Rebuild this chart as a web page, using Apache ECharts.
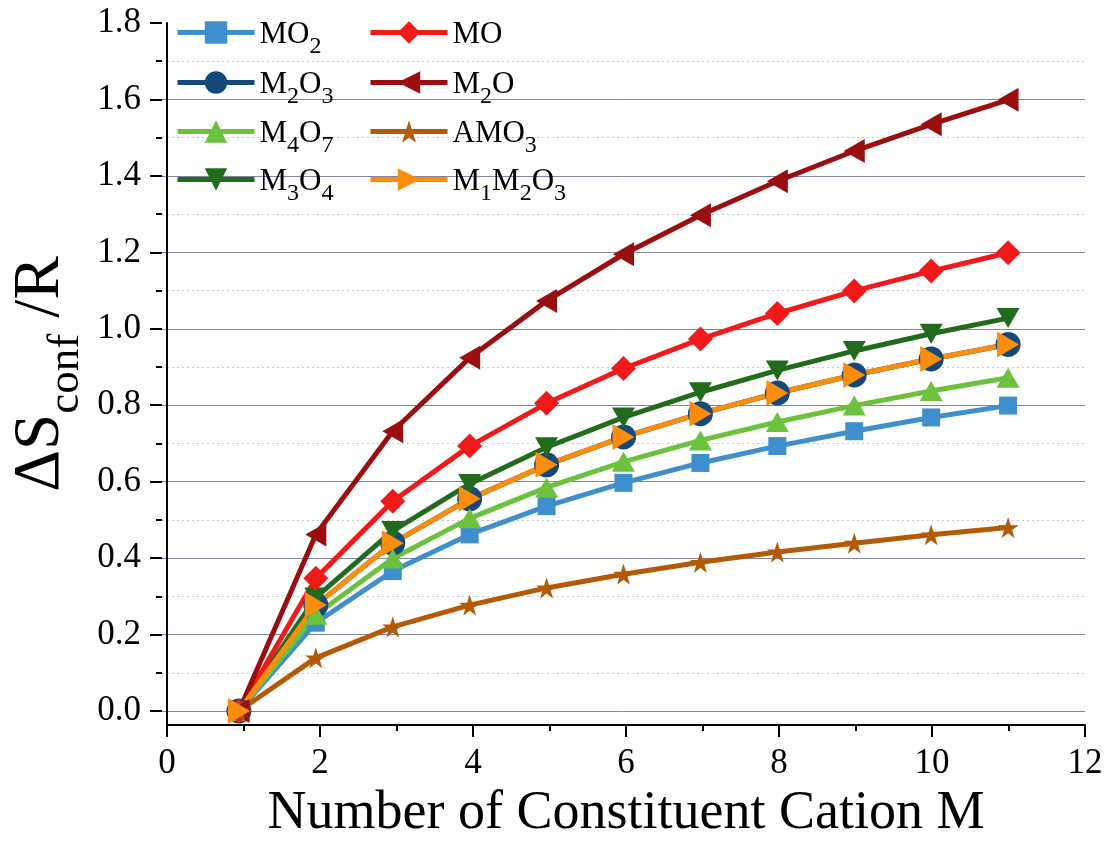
<!DOCTYPE html>
<html>
<head>
<meta charset="utf-8">
<script src="https://cdn.jsdelivr.net/npm/echarts@6/dist/echarts.min.js"></script>
<style>
  html, body { margin: 0; padding: 0; background: #fff; }
  #chart { width: 1110px; height: 846px; }
</style>
</head>
<body>
<div id="chart"></div>
<script>
// Number of constituent cations M
const cations = [1, 2, 3, 4, 5, 6, 7, 8, 9, 10, 11];

// Configurational entropy ΔS_conf / R for each oxide family
const MO2    = [0, 0.231, 0.366, 0.462, 0.536, 0.597, 0.649, 0.693, 0.732, 0.768, 0.799];
const M2O3   = [0, 0.277, 0.439, 0.555, 0.644, 0.717, 0.778, 0.832, 0.879, 0.921, 0.959];
const M4O7   = [0, 0.252, 0.399, 0.504, 0.585, 0.652, 0.708, 0.756, 0.799, 0.837, 0.872];
const M3O4   = [0, 0.297, 0.471, 0.594, 0.690, 0.768, 0.834, 0.891, 0.942, 0.987, 1.028];
const MO     = [0, 0.347, 0.549, 0.693, 0.805, 0.896, 0.973, 1.040, 1.099, 1.151, 1.199];
const M2O    = [0, 0.462, 0.732, 0.924, 1.073, 1.195, 1.297, 1.386, 1.465, 1.535, 1.599];
const AMO3   = [0, 0.139, 0.220, 0.277, 0.322, 0.358, 0.389, 0.416, 0.439, 0.461, 0.480];
const M1M2O3 = [0, 0.277, 0.439, 0.555, 0.644, 0.717, 0.778, 0.832, 0.879, 0.921, 0.959];

const xTicks = [0, 2, 4, 6, 8, 10, 12];
const yTicks = [0, 0.2, 0.4, 0.6, 0.8, 1.0, 1.2, 1.4, 1.6, 1.8];

const FONT = "'Liberation Serif', 'Times New Roman', serif";
const STAR = 'path://M50,0 L61.8,35.1 L98.1,35.1 L68.8,56.7 L79.4,91 L50,70 L20.6,91 L31.2,56.7 L1.9,35.1 L38.2,35.1 Z';
const LINE_W = 5;

// legend: column x, row y (centre of the key line)
const seriesDefs = [
  { name: 'MO2',    values: MO2,    color: '#3f8fcc', symbol: 'rect',     size: 18,       rotate: 0,   col: 175, row: 33 },
  { name: 'M2O3',   values: M2O3,   color: '#15497a', symbol: 'circle',   size: 25,       rotate: 0,   col: 175, row: 83 },
  { name: 'M4O7',   values: M4O7,   color: '#6cc13e', symbol: 'triangle', size: [23, 20], rotate: 0,   col: 175, row: 132 },
  { name: 'M3O4',   values: M3O4,   color: '#236b1c', symbol: 'triangle', size: [23, 20], rotate: 180, col: 175, row: 180 },
  { name: 'MO',     values: MO,     color: '#f01a1a', symbol: 'diamond',  size: 25,       rotate: 0,   col: 368, row: 33 },
  { name: 'M2O',    values: M2O,    color: '#990f0f', symbol: 'triangle', size: [24, 21], rotate: 90,  col: 368, row: 83 },
  { name: 'AMO3',   values: AMO3,   color: '#b35a07', symbol: STAR,       size: 21,       rotate: 0,   col: 368, row: 132 },
  { name: 'M1M2O3', values: M1M2O3, color: '#fb8c0c', symbol: 'triangle', size: [26, 22], rotate: -90, col: 368, row: 180 }
];

// Chemical formulae with subscripted digits
function formula(name) {
  let s = name.replace(/\d+|\D+/g, t => /\d/.test(t) ? '{b|' + t + '}' : '{n|' + t + '}');
  if (!/\d/.test(name)) s += '{b| }';
  return s;
}

const LEGEND_ITEM_H = 28;
const legendRich = {
  n: { fontSize: 31, fontFamily: FONT, color: '#000', padding: [13, 0, 0, 0], verticalAlign: 'top' },
  b: { fontSize: 24, fontFamily: FONT, color: '#000', padding: [29, 0, 0, 0], verticalAlign: 'top' }
};

const legends = seriesDefs.map(d => ({
  data: [d.name],
  left: d.col,
  top: d.row - LEGEND_ITEM_H / 2,
  padding: 0,
  itemWidth: 77,
  itemHeight: LEGEND_ITEM_H,
  lineStyle: { width: LINE_W },
  formatter: formula,
  textStyle: { rich: legendRich, fontFamily: FONT }
}));

const chart = echarts.init(document.getElementById('chart'), null, { renderer: 'canvas' });

chart.setOption({
  backgroundColor: '#ffffff',
  animation: false,
  grid: [
    // frame for the axis lines (extends slightly below zero)
    { left: 162, right: 25, top: 23, bottom: 117 },
    // data area, 0 .. 1.8
    { left: 162, right: 25, top: 23, bottom: 135 }
  ],
  legend: legends,
  xAxis: [
    {
      gridIndex: 0, type: 'value', min: xTicks[0], max: xTicks[xTicks.length - 1], interval: 2,
      axisLine: { onZero: false, lineStyle: { color: '#000', width: 2 } },
      axisTick: { length: 12, lineStyle: { color: '#000', width: 2 } },
      minorTick: { show: true, splitNumber: 2, length: 6, lineStyle: { color: '#000', width: 2 } },
      splitLine: { show: false },
      axisLabel: { fontSize: 35, fontFamily: FONT, color: '#000', margin: 21 },
      name: 'Number of Constituent Cation M',
      nameLocation: 'middle',
      nameGap: 62,
      nameTextStyle: { fontSize: 54, fontFamily: FONT, color: '#000' }
    },
    { gridIndex: 1, type: 'value', min: 0, max: 12, show: false }
  ],
  yAxis: [
    {
      gridIndex: 0, type: 'value', min: -0.05, max: 1.8,
      axisLine: { show: true, onZero: false, lineStyle: { color: '#000', width: 2 } },
      axisTick: { show: false },
      axisLabel: { show: false },
      splitLine: { show: false },
      name: '{m|ΔS}{s|conf}{m| /R}',
      nameLocation: 'middle',
      nameGap: 78,
      nameTextStyle: {
        fontFamily: FONT, color: '#000',
        rich: {
          m: { fontSize: 65, fontFamily: FONT, color: '#000', padding: [0, 0, 16, 0], verticalAlign: 'bottom' },
          s: { fontSize: 45, fontFamily: FONT, color: '#000', verticalAlign: 'bottom' }
        }
      }
    },
    {
      gridIndex: 1, type: 'value', min: yTicks[0], max: yTicks[yTicks.length - 1], interval: 0.2,
      axisLine: { show: false, onZero: false },
      axisTick: { show: true, length: 12, lineStyle: { color: '#000', width: 2 } },
      minorTick: { show: true, splitNumber: 2, length: 6, lineStyle: { color: '#000', width: 2 } },
      axisLabel: {
        fontSize: 35, fontFamily: FONT, color: '#000', margin: 21,
        formatter: v => v.toFixed(1)
      },
      splitLine: { show: true, showMaxLine: false, lineStyle: { color: '#85859f', width: 1 } },
      minorSplitLine: { show: true, lineStyle: { color: '#c8c8c8', width: 1, type: [2, 3] } }
    }
  ],
  series: seriesDefs.map(d => ({
    name: d.name,
    type: 'line',
    xAxisIndex: 1,
    yAxisIndex: 1,
    data: cations.map((c, i) => [c, d.values[i]]),
    symbol: d.symbol,
    symbolSize: d.size,
    symbolRotate: d.rotate,
    showAllSymbol: true,
    clip: false,
    lineStyle: { color: d.color, width: LINE_W },
    itemStyle: { color: d.color, borderWidth: 0 },
    emphasis: { disabled: true }
  }))
});
</script>
</body>
</html>
